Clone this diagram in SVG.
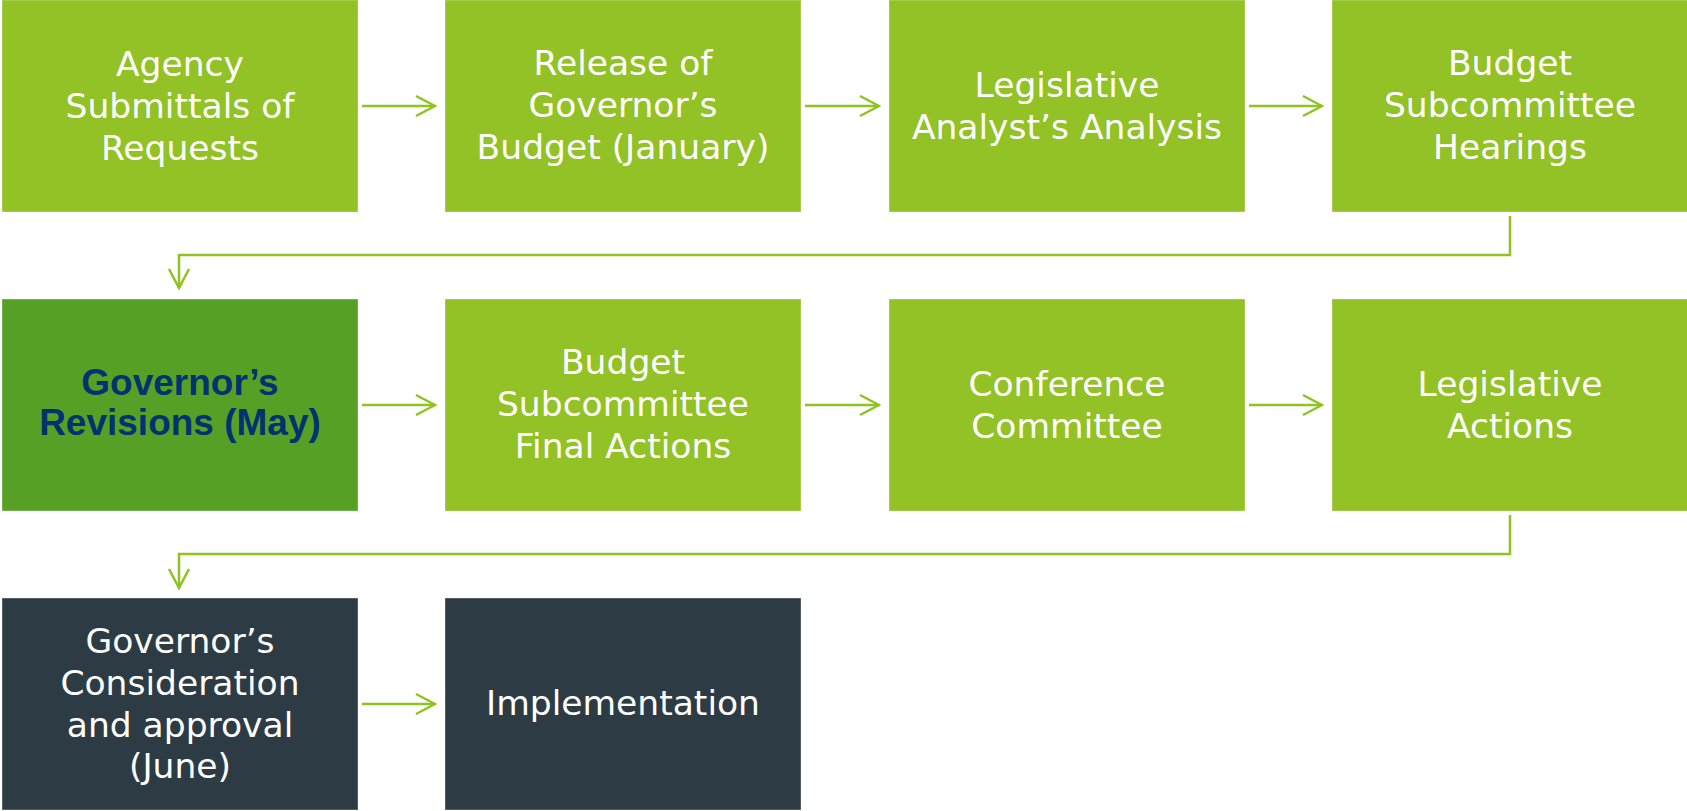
<svg xmlns="http://www.w3.org/2000/svg" width="1687" height="811" viewBox="0 0 1687 811">
<style>
.box{stroke:#ffffff;stroke-opacity:0.35;stroke-width:1}
.g{fill:#92c225}
.dg{fill:#56a125}
.dk{fill:#2d3c44}
.t{font-family:"DejaVu Sans","Liberation Sans",sans-serif;font-size:34.5px;fill:#ffffff;text-anchor:middle}
.tb{font-family:"Liberation Sans",Arial,sans-serif;font-weight:bold;font-size:37px;fill:#00336f;text-anchor:middle}
.c{fill:none;stroke:#8fc31f;stroke-width:2.5}
</style>
<defs>
<marker id="ah" markerUnits="userSpaceOnUse" markerWidth="24" markerHeight="24" viewBox="-22 -12 24 24" refX="0" refY="0" orient="auto">
<path d="M-19,-10 L0,0 L-19,10" fill="none" stroke="#8fc31f" stroke-width="2.5"/>
</marker>
</defs>
<rect width="1687" height="811" fill="#ffffff"/>
<g id="connectors">
<path class="c" d="M362,106 H435" marker-end="url(#ah)"/>
<path class="c" d="M805,106 H879" marker-end="url(#ah)"/>
<path class="c" d="M1249,106 H1322" marker-end="url(#ah)"/>
<path class="c" d="M1510,216 V255 H179 V288" marker-end="url(#ah)"/>
<path class="c" d="M362,405 H435" marker-end="url(#ah)"/>
<path class="c" d="M805,405 H879" marker-end="url(#ah)"/>
<path class="c" d="M1249,405 H1322" marker-end="url(#ah)"/>
<path class="c" d="M1510,515 V554 H179 V588" marker-end="url(#ah)"/>
<path class="c" d="M362,704 H435" marker-end="url(#ah)"/>
</g>
<g id="n1"><rect class="box g" x="2" y="0" width="356" height="212"/>
<text class="t" x="180"><tspan x="180" y="76">Agency</tspan><tspan x="180" y="118">Submittals of</tspan><tspan x="180" y="160">Requests</tspan></text></g>
<g id="n2"><rect class="box g" x="445" y="0" width="356" height="212"/>
<text class="t" x="623"><tspan x="623" y="75">Release of</tspan><tspan x="623" y="117">Governor’s</tspan><tspan x="623" y="159">Budget (January)</tspan></text></g>
<g id="n3"><rect class="box g" x="889" y="0" width="356" height="212"/>
<text class="t" x="1067"><tspan x="1067" y="97">Legislative</tspan><tspan x="1067" y="139">Analyst’s Analysis</tspan></text></g>
<g id="n4"><rect class="box g" x="1332" y="0" width="356" height="212"/>
<text class="t" x="1510"><tspan x="1510" y="75">Budget</tspan><tspan x="1510" y="117">Subcommittee</tspan><tspan x="1510" y="159">Hearings</tspan></text></g>
<g id="n5"><rect class="box dg" x="2" y="299" width="356" height="212"/>
<text class="tb" x="180"><tspan x="180" y="395">Governor’s</tspan><tspan x="180" y="435">Revisions (May)</tspan></text></g>
<g id="n6"><rect class="box g" x="445" y="299" width="356" height="212"/>
<text class="t" x="623"><tspan x="623" y="374">Budget</tspan><tspan x="623" y="416">Subcommittee</tspan><tspan x="623" y="458">Final Actions</tspan></text></g>
<g id="n7"><rect class="box g" x="889" y="299" width="356" height="212"/>
<text class="t" x="1067"><tspan x="1067" y="396">Conference</tspan><tspan x="1067" y="438">Committee</tspan></text></g>
<g id="n8"><rect class="box g" x="1332" y="299" width="356" height="212"/>
<text class="t" x="1510"><tspan x="1510" y="396">Legislative</tspan><tspan x="1510" y="438">Actions</tspan></text></g>
<g id="n9"><rect class="box dk" x="2" y="598" width="356" height="212"/>
<text class="t" x="180"><tspan x="180" y="653">Governor’s</tspan><tspan x="180" y="695">Consideration</tspan><tspan x="180" y="737">and approval</tspan><tspan x="180" y="778">(June)</tspan></text></g>
<g id="n10"><rect class="box dk" x="445" y="598" width="356" height="212"/>
<text class="t" x="623"><tspan x="623" y="715">Implementation</tspan></text></g>
</svg>
